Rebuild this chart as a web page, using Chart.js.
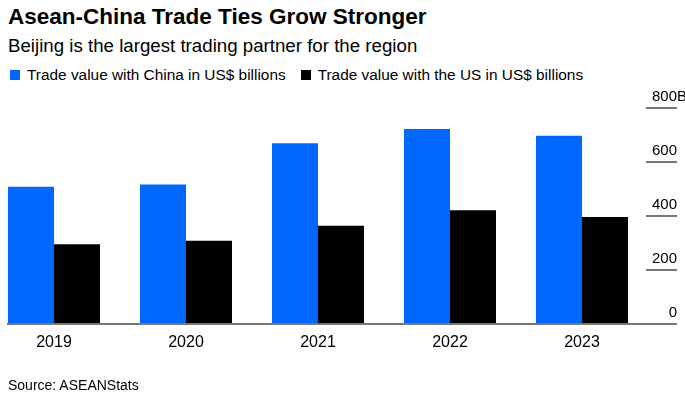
<!DOCTYPE html>
<html>
<head>
<meta charset="utf-8">
<script src="https://cdn.jsdelivr.net/npm/chart.js@4.4.1/dist/chart.umd.min.js"></script>
<style>
  html, body { margin: 0; padding: 0; background: #fff; }
  body { width: 685px; height: 398px; position: relative; overflow: hidden;
         font-family: "Liberation Sans", Arial, sans-serif; color: #000; }
  #wrap { position: absolute; left: 0; top: 0; width: 685px; height: 398px; }
  .title { position: absolute; left: 8px; top: 4px; font-size: 22.5px; font-weight: bold; white-space: nowrap; }
  .sub { position: absolute; left: 8px; top: 35px; font-size: 18.7px; white-space: nowrap; }
  .legend { position: absolute; left: 10px; top: 66px; font-size: 15.4px; display: flex; align-items: center; white-space: nowrap; }
  .legend span.sw { display: inline-block; width: 10px; height: 10px; margin-right: 7px; }
  .legend span.item { display: inline-flex; align-items: center; margin-right: 15px; }
  .source { position: absolute; left: 8px; top: 377px; font-size: 14px; }
</style>
</head>
<body>
<div class="title">Asean-China Trade Ties Grow Stronger</div>
<div class="sub">Beijing is the largest trading partner for the region</div>
<div class="legend">
  <span class="item"><span class="sw" style="background:#0068ff"></span>Trade value with China in US$ billions</span>
  <span class="item"><span class="sw" style="background:#000"></span>Trade value with the US in US$ billions</span>
</div>
<div id="wrap"><canvas id="tradeChart" width="685" height="398"></canvas></div>
<div class="source">Source: ASEANStats</div>

<script>
// ─── DATA ───────────────────────────────────────────────
const years = [2019, 2020, 2021, 2022, 2023];
const chinaTrade = [508, 517, 669, 722, 697];
const usTrade = [295, 308, 364, 421, 396];
const yTicks = [0, 200, 400, 600, 800];

const BLUE = '#0068ff';
const AXIS_GRAY = '#777777';

// right-side tick labels sit above the short tick lines
const tickLabelPlugin = {
  id: 'tickLabels',
  afterDraw(chart) {
    const y = chart.scales.y;
    const ctx = chart.ctx;
    ctx.save();
    ctx.font = '15px "Liberation Sans", Arial, sans-serif';
    ctx.fillStyle = '#000';
    ctx.textBaseline = 'alphabetic';
    yTicks.forEach(v => {
      const py = y.getPixelForValue(v);
      ctx.textAlign = 'right';
      ctx.fillText(String(v), y.right, py - 7);
      if (v === yTicks[yTicks.length - 1]) {
        ctx.textAlign = 'left';
        ctx.fillText('B', y.right, py - 7);
      }
    });
    ctx.restore();
  }
};

function initTradeChart() {
  const canvas = document.getElementById('tradeChart');
  const ctx = canvas.getContext('2d');

  new Chart(ctx, {
    type: 'bar',
    data: {
      datasets: [
        {
          label: 'Trade value with China in US$ billions',
          data: years.map((yr, i) => ({ x: yr, y: chinaTrade[i] })),
          backgroundColor: BLUE,
          borderWidth: 0,
        },
        {
          label: 'Trade value with the US in US$ billions',
          data: years.map((yr, i) => ({ x: yr, y: usTrade[i] })),
          backgroundColor: '#000',
          borderWidth: 0,
        }
      ]
    },
    options: {
      responsive: false,
      animation: false,
      categoryPercentage: 92 / 132,
      barPercentage: 1,
      layout: { padding: { left: 8, right: 8, top: 108, bottom: 0 } },
      plugins: {
        legend: { display: false },
        tooltip: { enabled: false }
      },
      scales: {
        x: {
          type: 'linear',
          offset: false,
          min: 2019 - 46 / 132,
          max: 2023 + (646 - 582) / 132,
          afterFit: s => { s.height = 74; },
          afterBuildTicks: s => { s.ticks = years.map(v => ({ value: v })); },
          grid: { display: false, drawTicks: false },
          border: { display: true, color: AXIS_GRAY, width: 2 },
          ticks: {
            color: '#000',
            padding: 9,
            font: { family: '"Liberation Sans", Arial, sans-serif', size: 16 },
            callback: v => String(v)
          }
        },
        y: {
          position: 'right',
          min: 0,
          max: 800,
          afterFit: s => { s.width = 31; },
          afterBuildTicks: s => { s.ticks = yTicks.map(v => ({ value: v })); },
          border: { display: false },
          grid: {
            drawOnChartArea: false,
            drawTicks: true,
            tickLength: 31,
            color: AXIS_GRAY,
            lineWidth: 2
          },
          ticks: { display: false }
        }
      }
    },
    plugins: [tickLabelPlugin]
  });
}

document.addEventListener('DOMContentLoaded', initTradeChart);
</script>
</body>
</html>
